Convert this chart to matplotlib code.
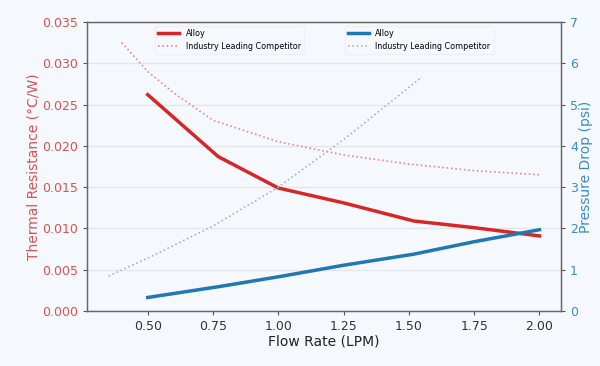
import matplotlib
matplotlib.use("Agg")
import matplotlib.pyplot as plt

# data
flow_alloy = [0.50, 0.77, 1.00, 1.25, 1.52, 1.75, 2.00]
thermal_alloy = [0.0262, 0.0187, 0.0149, 0.0131, 0.0109, 0.0101, 0.0091]
pressure_alloy = [0.33, 0.59, 0.83, 1.11, 1.38, 1.68, 1.97]

flow_comp_thermal = [0.40, 0.50, 0.60, 0.75, 1.00, 1.25, 1.50, 1.75, 2.00]
thermal_comp = [0.0325, 0.0290, 0.0264, 0.0231, 0.0205, 0.0189, 0.0178, 0.0170, 0.0165]

flow_comp_pressure = [0.35, 0.50, 0.75, 1.00, 1.25, 1.55]
pressure_comp = [0.85, 1.28, 2.06, 3.00, 4.15, 5.67]

bg = "#f5f9fd"
red = "#d62728"
red_txt = "#d9534f"
blue = "#1f77b4"
blue_txt = "#3a8cc7"

fig = plt.figure(figsize=(6, 3.66), dpi=100, facecolor=bg)
ax1 = fig.add_axes([0.145, 0.150, 0.79, 0.79], facecolor=bg)
ax2 = ax1.twinx()

ax1.plot(flow_alloy, thermal_alloy, color=red, lw=2.5, label="Alloy")
ax1.plot(flow_comp_thermal, thermal_comp, color="#e58a8a", lw=1.2, ls=(0, (1, 1.6)),
         label="Industry Leading Competitor")
ax2.plot(flow_alloy, pressure_alloy, color=blue, lw=2.5, label="Alloy")
ax2.plot(flow_comp_pressure, pressure_comp, color="#a9b3bd", lw=1.2, ls=(0, (1, 1.6)),
         label="Industry Leading Competitor")

ax1.set_ylim(0, 0.035)
ax2.set_ylim(0, 7)
ax1.set_xticks([0.5, 0.75, 1.0, 1.25, 1.5, 1.75, 2.0])
ax1.set_xticklabels(["0.50", "0.75", "1.00", "1.25", "1.50", "1.75", "2.00"])
ax1.set_yticks([0, 0.005, 0.01, 0.015, 0.02, 0.025, 0.03, 0.035])
ax1.set_yticklabels(["0.000", "0.005", "0.010", "0.015", "0.020", "0.025", "0.030", "0.035"])

ax1.grid(axis="y", color="#e3e6ea", lw=1)
ax1.set_axisbelow(True)

ax1.set_xlabel("Flow Rate (LPM)", fontsize=10, color="#222222", labelpad=1)
ax1.set_ylabel("Thermal Resistance (°C/W)", fontsize=10, color=red_txt, labelpad=1)
ax2.set_ylabel("Pressure Drop (psi)", fontsize=10, color=blue_txt, labelpad=1)

ax1.tick_params(axis="x", colors="#555555", labelcolor="#333333", labelsize=9, length=3)
ax1.tick_params(axis="y", colors="#555555", labelcolor=red_txt, labelsize=9, length=3)
ax2.tick_params(axis="y", colors="#555555", labelcolor=blue_txt, labelsize=9, length=3)

for ax in (ax1, ax2):
    for s in ax.spines.values():
        s.set_color("#666666")
        s.set_linewidth(0.9)

leg1 = ax1.legend(loc="upper left", bbox_to_anchor=(0.135, 1.0), fontsize=5.8,
                  frameon=True, handlelength=2.6)
leg2 = ax2.legend(loc="upper left", bbox_to_anchor=(0.535, 1.0), fontsize=5.8,
                  frameon=True, handlelength=2.6)
for leg in (leg1, leg2):
    leg.get_frame().set_facecolor(bg)
    leg.get_frame().set_edgecolor("#eceff2")

fig.savefig("out.png", dpi=100, facecolor=bg)
